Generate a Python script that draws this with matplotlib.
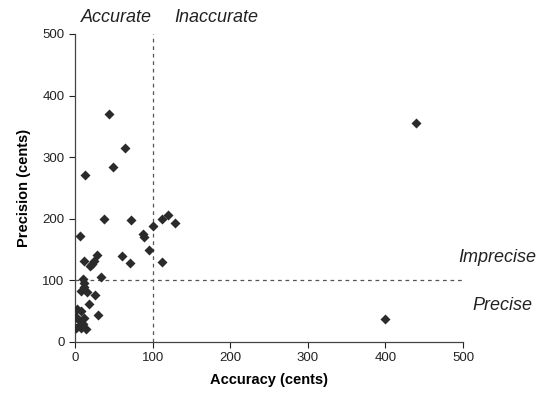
import matplotlib
matplotlib.use("Agg")
import matplotlib.pyplot as plt

plt.rcParams['font.family'] = ['Liberation Sans', 'DejaVu Sans']

accuracy = [44, 65, 49, 13, 37, 72, 7, 87, 89, 100, 112, 120, 129, 96, 112, 60, 71,
            11, 28, 25, 22, 19, 34, 10, 11, 11, 8, 16, 26, 18, 30, 3, 8, 1, 11, 6, 10,
            1, 14, 6, 8, 440, 400]
precision = [370, 315, 284, 271, 199, 198, 172, 175, 170, 188, 200, 206, 193, 149, 130,
             139, 129, 131, 142, 131, 127, 123, 106, 102, 95, 89, 82, 81, 77, 62, 44,
             54, 50, 41, 39, 34, 30, 23, 21, 27, 22, 355, 38]
ticks = [0, 100, 200, 300, 400, 500]

fig = plt.figure(figsize=(5.41, 3.97), dpi=100)
ax = fig.add_axes([75/541, 1-342/397, (463-75)/541, (342-34)/397])

ax.plot([100, 100], [0, 500], ls=(0, (3, 3)), color='#555555', lw=0.9)
ax.plot([0, 500], [100, 100], ls=(0, (3, 3)), color='#555555', lw=0.9)
ax.scatter(accuracy, precision, marker='D', s=26, color='#2b2b2b', zorder=3, linewidths=0)

ax.set_xlim(0, 500)
ax.set_ylim(0, 500)
ax.set_xticks(ticks)
ax.set_yticks(ticks)
ax.tick_params(direction='out', length=4, width=0.8, labelsize=9.5, colors='#222222')
for s in ['top', 'right']:
    ax.spines[s].set_visible(False)
for s in ['left', 'bottom']:
    ax.spines[s].set_color('#444444')
    ax.spines[s].set_linewidth(0.9)

ax.set_xlabel('Accuracy (cents)', fontweight='bold', fontsize=10.5, labelpad=6)
ax.set_ylabel('Precision (cents)', fontweight='bold', fontsize=10.5, labelpad=8)

kw = dict(fontstyle='italic', fontsize=13, color='#222222', transform=fig.transFigure,
          ha='center', va='baseline')
fig.text(116/541, 1-22/397, 'Accurate', **kw)
fig.text(216/541, 1-22/397, 'Inaccurate', **kw)
fig.text(497/541, 1-262/397, 'Imprecise', **kw)
fig.text(502/541, 1-310/397, 'Precise', **kw)

fig.savefig('out.png', dpi=100)
